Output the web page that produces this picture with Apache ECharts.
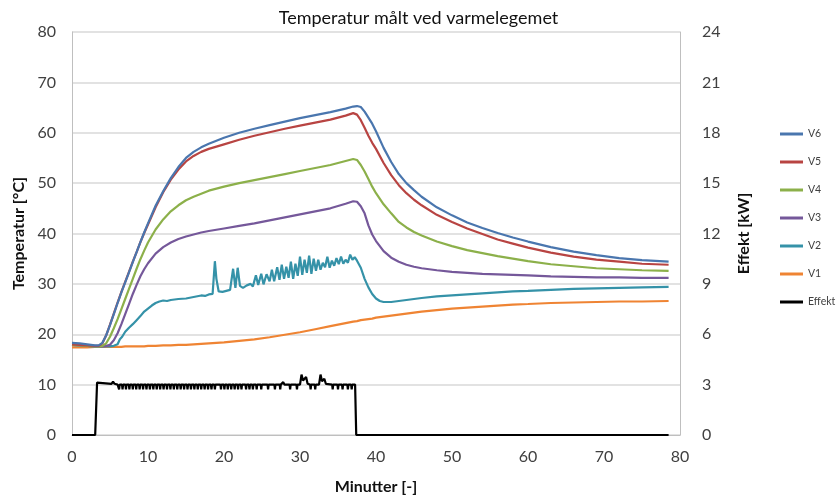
<!DOCTYPE html>
<html>
<head>
<meta charset="utf-8">
<script src="https://cdn.jsdelivr.net/npm/echarts@6/dist/echarts.min.js"></script>
<style>html,body{margin:0;padding:0;background:#fff}#c{width:837px;height:500px}</style>
</head>
<body>
<div id="c"></div>
<script>
// ---- data ----
const titleText = 'Temperatur målt ved varmelegemet';
const seriesNames = ['V6', 'V5', 'V4', 'V3', 'V2', 'V1', 'Effekt'];
const xTicks = [0, 10, 20, 30, 40, 50, 60, 70, 80];

const minutes = [0,1,2,3,3.5,4,4.5,5,5.5,6,6.5,7,7.5,8,8.5,9,9.5,10,11,12,13,14,15,16,17,18,20,22,24,26,28,30,32,34,36,37,37.5,38,38.5,39,39.5,40,41,42,43,44,45,46,48,50,52,54,56,58,60,63,66,69,72,75,78.5];

const v6 = [18.3,18.2,18.0,17.8,17.8,18.3,19.8,21.8,24.0,26.2,28.3,30.3,32.3,34.3,36.3,38.3,40.2,42.0,45.5,48.4,51.0,53.2,55.0,56.2,57.1,57.8,59.0,60.0,60.8,61.5,62.2,62.9,63.5,64.1,64.8,65.2,65.3,65.1,64.2,63.0,61.8,60.3,57.0,54.2,51.8,50.0,48.6,47.3,45.2,43.6,42.2,41.1,40.1,39.2,38.4,37.3,36.4,35.7,35.1,34.7,34.4];
const v5 = [18.0,17.9,17.8,17.7,17.7,18.2,19.8,21.9,24.1,26.3,28.4,30.4,32.4,34.4,36.3,38.3,40.1,41.8,45.2,48.2,50.7,52.7,54.3,55.4,56.2,56.8,57.7,58.6,59.4,60.1,60.8,61.4,62.0,62.6,63.4,63.9,63.6,62.5,61.0,59.4,58.0,56.8,54.0,51.6,49.6,48.0,46.7,45.6,43.7,42.3,41.0,39.9,38.8,38.0,37.2,36.2,35.4,34.8,34.4,34.0,33.8];
const v4 = [17.9,17.8,17.7,17.6,17.6,17.7,18.2,19.5,21.2,23.0,25.0,27.0,29.0,31.0,33.0,34.9,36.6,38.2,40.8,42.8,44.4,45.6,46.6,47.3,47.9,48.5,49.3,50.0,50.6,51.2,51.8,52.4,53.0,53.6,54.4,54.8,54.6,53.6,52.3,50.8,49.3,48.0,45.8,44.0,42.3,41.2,40.3,39.6,38.4,37.5,36.7,36.1,35.5,35.0,34.5,33.9,33.5,33.1,32.9,32.7,32.6];
const v3 = [17.9,17.8,17.7,17.6,17.6,17.6,17.7,17.9,18.8,20.2,22.0,24.0,26.0,28.0,29.8,31.5,32.9,34.1,36.0,37.3,38.2,38.9,39.4,39.8,40.2,40.5,41.0,41.5,42.0,42.6,43.2,43.8,44.4,45.0,45.9,46.4,46.3,45.4,44.0,41.6,39.8,38.5,36.5,35.2,34.4,33.8,33.4,33.1,32.7,32.4,32.2,32.0,31.9,31.8,31.7,31.5,31.4,31.3,31.3,31.2,31.2];
const v1 = [17.4,17.4,17.4,17.5,17.5,17.5,17.5,17.5,17.5,17.5,17.5,17.6,17.6,17.6,17.6,17.6,17.6,17.7,17.7,17.8,17.8,17.9,17.9,18.0,18.1,18.2,18.4,18.7,19.0,19.4,19.9,20.4,21.0,21.6,22.2,22.5,22.6,22.8,22.9,23.0,23.1,23.3,23.5,23.7,23.9,24.1,24.3,24.5,24.8,25.1,25.3,25.5,25.7,25.9,26.0,26.2,26.3,26.4,26.5,26.5,26.6];

const minutesV2 = [0,1,2,3,4,5,5.5,6,6.3,6.6,7,7.5,8,8.5,9,9.5,10,10.5,11,11.5,12,12.5,13,13.5,14,15,16,17,17.5,18,18.5,18.8,19,19.3,19.8,20.3,20.8,21.2,21.5,21.8,22.1,22.5,23,23.5,23.8,24.2,24.5,24.9,25.2,25.6,26,26.3,26.6,27,27.3,27.6,27.9,28.2,28.5,28.8,29.1,29.4,29.7,30,30.3,30.6,30.9,31.2,31.5,31.8,32.1,32.4,32.7,33,33.3,33.6,33.9,34.2,34.5,34.8,35.1,35.4,35.7,36,36.3,36.6,36.9,37.2,37.5,38,38.5,39,39.5,40,40.5,41,42,43,44,45,46,48,50,52,54,56,58,60,63,66,69,72,75,78.5];
const v2 = [17.9,17.8,17.7,17.6,17.6,17.6,17.7,18.0,19.0,19.5,20.5,21.3,22.0,22.8,23.6,24.5,25.1,25.7,26.2,26.5,26.7,26.6,26.8,26.9,27.0,27.1,27.4,27.7,27.6,27.9,28.0,34.5,31.0,28.5,28.4,28.6,28.8,33.0,29.2,33.2,29.6,29.2,29.7,30.0,29.5,31.7,29.8,32.0,29.9,31.9,30.5,32.8,30.5,33.3,30.8,33.8,31.0,33.4,31.2,34.4,31.0,34.0,31.6,35.4,31.8,34.8,32.2,35.6,32.0,35.0,32.6,34.8,32.8,34.2,33.3,35.4,33.2,34.6,33.6,35.1,33.9,35.4,34.0,34.8,34.2,35.8,34.8,35.3,34.6,33.2,31.0,29.3,28.0,27.1,26.6,26.4,26.4,26.6,26.8,27.0,27.2,27.5,27.7,27.9,28.1,28.3,28.5,28.6,28.8,29.0,29.1,29.2,29.3,29.4];

const effektMinutes = [0,3.05,3.3,3.5,5.2,5.4,5.6,6.0,
  6.13,6.2,6.27,6.58,6.65,6.72,7.03,7.1,7.17,7.48,7.55,7.62,7.93,8.0,8.07,8.38,8.45,8.52,8.83,8.9,8.97,9.28,9.35,9.42,9.73,9.8,9.87,10.18,10.25,10.32,
  10.63,10.7,10.77,11.08,11.15,11.22,11.53,11.6,11.67,11.98,12.05,12.12,12.43,12.5,12.57,12.88,12.95,13.02,13.33,13.4,13.47,13.78,13.85,13.92,14.23,14.3,14.37,14.68,14.75,14.82,
  15.13,15.2,15.27,15.58,15.65,15.72,16.03,16.1,16.17,16.48,16.55,16.62,16.93,17.0,17.07,17.38,17.45,17.52,17.83,17.9,17.97,18.28,18.35,18.42,18.73,18.8,18.87,19.53,19.6,19.67,
  19.98,20.05,20.12,20.43,20.5,20.57,20.88,20.95,21.02,21.33,21.4,21.47,21.78,21.85,21.92,22.23,22.3,22.37,22.83,22.9,22.97,23.28,23.35,23.42,23.73,23.8,23.87,24.23,24.3,24.37,
  24.83,24.9,24.97,25.73,25.8,25.87,26.63,26.7,26.77,27.33,27.4,27.47,27.65,27.8,27.95,28.63,28.7,28.77,29.53,29.6,29.67,
  30.0,30.2,30.4,30.6,30.8,31.0,31.33,31.4,31.47,31.93,32.0,32.07,32.5,32.7,32.9,33.2,33.4,34.23,34.3,34.37,34.93,35.0,35.07,35.53,35.6,35.67,36.23,36.3,36.37,36.73,36.8,36.87,37.25,37.4,78.5];
const effektKW = [0,0,3.12,3.05,3.05,3.18,3.05,3.0,
  3,2.72,3,3,2.72,3,3,2.72,3,3,2.72,3,3,2.72,3,3,2.72,3,3,2.72,3,3,2.72,3,3,2.72,3,3,2.72,3,
  3,2.72,3,3,2.72,3,3,2.72,3,3,2.72,3,3,2.72,3,3,2.72,3,3,2.72,3,3,2.72,3,3,2.72,3,3,2.72,3,
  3,2.72,3,3,2.72,3,3,2.72,3,3,2.72,3,3,2.72,3,3,2.72,3,3,2.72,3,3,2.72,3,3,2.72,3,3,2.72,3,
  3,2.72,3,3,2.72,3,3,2.72,3,3,2.72,3,3,2.72,3,3,2.72,3,3,2.72,3,3,2.72,3,3,2.72,3,3,2.72,3,
  3,2.72,3,3,2.72,3,3,2.72,3,3,2.72,3,3,3.15,3,3,2.72,3,3,2.72,3,
  3,3.6,3.25,3.3,3.45,3.05,3,2.72,3,3,2.72,3,3,3.6,3.2,3.35,3.05,3,2.72,3,3,2.72,3,3,2.72,3,3,2.72,3,3,2.72,3,3,0,0];

const colors = ['#4a76ae', '#b84442', '#8cb04a', '#75589a', '#3592a8', '#ef8433', '#000000'];

// ---- build chart ----
function pairs(xs, ys) { return xs.map((x, i) => [x, ys[i]]); }
const dataSets = [pairs(minutes, v6), pairs(minutes, v5), pairs(minutes, v4), pairs(minutes, v3),
                  pairs(minutesV2, v2), pairs(minutes, v1), pairs(effektMinutes, effektKW)];

const FONT = 'Lato';
const chart = echarts.init(document.getElementById('c'), null, { renderer: 'canvas' });
chart.setOption({
  animation: false,
  backgroundColor: '#ffffff',
  textStyle: { fontFamily: FONT },
  title: {
    text: titleText, left: 'center', top: 4,
    textStyle: { fontFamily: FONT, fontSize: 18, fontWeight: 'normal', color: '#111' }
  },
  legend: {
    orient: 'vertical', left: 780, top: 128, padding: 0,
    icon: 'rect', itemWidth: 23, itemHeight: 3, itemGap: 16,
    data: seriesNames,
    textStyle: { fontFamily: FONT, fontSize: 10.5, color: '#404040', lineHeight: 12 }
  },
  grid: { left: 72, right: 157, top: 32, bottom: 63, containLabel: false },
  xAxis: {
    type: 'value', min: xTicks[0], max: xTicks[xTicks.length - 1], interval: 10,
    name: 'Minutter [-]', nameLocation: 'middle', nameGap: 44,
    nameTextStyle: { fontFamily: FONT, fontSize: 16, fontWeight: 'bold', color: '#111' },
    axisLine: { show: true, lineStyle: { color: '#bfbfbf', width: 1 } },
    axisTick: { show: false },
    axisLabel: { margin: 14, fontFamily: FONT, fontSize: 16, color: '#404040' },
    splitLine: { show: false }
  },
  yAxis: [{
    type: 'value', min: 0, max: 80, interval: 10,
    name: 'Temperatur [°C]', nameLocation: 'middle', nameGap: 42,
    nameTextStyle: { fontFamily: FONT, fontSize: 16, fontWeight: 'bold', color: '#111' },
    axisLine: { show: true, lineStyle: { color: '#bfbfbf', width: 1 } },
    axisTick: { show: false },
    axisLabel: { margin: 16, fontFamily: FONT, fontSize: 16, color: '#404040' },
    splitLine: { show: true, lineStyle: { color: '#d9d9d9', width: 1.5 } }
  }, {
    type: 'value', min: 0, max: 24, interval: 3, position: 'right',
    name: 'Effekt [kW]', nameLocation: 'middle', nameGap: 56,
    nameTextStyle: { fontFamily: FONT, fontSize: 16, fontWeight: 'bold', color: '#111' },
    axisLine: { show: true, lineStyle: { color: '#bfbfbf', width: 1 } },
    axisTick: { show: false },
    axisLabel: { margin: 22, fontFamily: FONT, fontSize: 16, color: '#404040' },
    splitLine: { show: false }
  }],
  series: seriesNames.map((n, i) => ({
    name: n, type: 'line', data: dataSets[i],
    yAxisIndex: n === 'Effekt' ? 1 : 0,
    showSymbol: false, symbol: 'none',
    color: colors[i],
    lineStyle: { width: 2.2, color: colors[i] },
    z: n === 'Effekt' ? 1 : 2 + (6 - i),
    clip: false
  }))
});
</script>
</body>
</html>
